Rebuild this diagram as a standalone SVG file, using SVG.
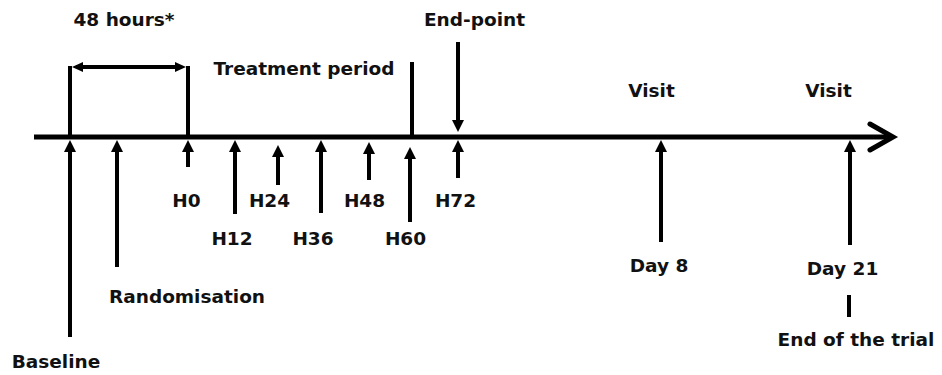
<svg xmlns="http://www.w3.org/2000/svg" width="942" height="375" viewBox="0 0 942 375">
<style>
  text { font-family: "DejaVu Sans", "Liberation Sans", sans-serif; font-weight: bold; font-size: 18.5px; fill: #111; text-anchor: middle; }
  .ln { stroke: #000; stroke-width: 4; fill: none; }
  .ar { stroke: #000; stroke-width: 4; fill: none; marker-end: url(#head); }
  .axis { stroke: #000; stroke-width: 5; fill: none; }
</style>
<defs>
  <marker id="head" markerUnits="userSpaceOnUse" markerWidth="14" markerHeight="14" refX="2" refY="6" orient="auto">
    <path d="M0,0 L12,6 L0,12 z" fill="#000"/>
  </marker>
  <marker id="small" markerUnits="userSpaceOnUse" markerWidth="12" markerHeight="12" refX="2" refY="5" orient="auto-start-reverse">
    <path d="M0,0 L11,5 L0,10 z" fill="#000"/>
  </marker>
</defs>
<rect width="942" height="375" fill="#fff"/>

<g id="connectors">
  <line class="axis" x1="34" y1="137" x2="891" y2="137"/>
  <polyline class="axis" points="870,124 893,137 870,150" stroke-linejoin="miter" stroke-linecap="round"/>
  <!-- 48 hours bracket -->
  <line class="ln" x1="70" y1="137" x2="70" y2="66"/>
  <line class="ln" x1="188" y1="137" x2="188" y2="66"/>
  <line class="ln" x1="81" y1="67" x2="177" y2="67" marker-start="url(#small)" marker-end="url(#small)"/>
  <!-- treatment period end -->
  <line class="ln" x1="412" y1="137" x2="412" y2="62"/>
  <!-- end-point down arrow -->
  <line class="ar" x1="458" y1="42" x2="458" y2="122"/>
  <!-- upward arrows -->
  <line class="ar" x1="70" y1="337" x2="70" y2="150"/>
  <line class="ar" x1="117" y1="267" x2="117" y2="150"/>
  <line class="ar" x1="188" y1="167" x2="188" y2="150"/>
  <line class="ar" x1="235" y1="214" x2="235" y2="150"/>
  <line class="ar" x1="278" y1="185" x2="278" y2="155"/>
  <line class="ar" x1="321" y1="213" x2="321" y2="150"/>
  <line class="ar" x1="369" y1="180" x2="369" y2="152"/>
  <line class="ar" x1="410" y1="222" x2="410" y2="157"/>
  <line class="ar" x1="458" y1="178" x2="458" y2="150"/>
  <line class="ar" x1="661" y1="242" x2="661" y2="150"/>
  <line class="ar" x1="850" y1="245" x2="850" y2="150"/>
  <!-- end of trial tick -->
  <line class="ln" x1="849" y1="295" x2="849" y2="317"/>
</g>

<g id="hours48"><text x="124" y="26">48 hours*</text></g>
<g id="endpoint"><text x="474.5" y="26">End-point</text></g>
<g id="treatment"><text x="304" y="75">Treatment period</text></g>
<g id="visit1"><text x="651.5" y="97">Visit</text></g>
<g id="visit2"><text x="828.5" y="97">Visit</text></g>
<g id="h0"><text x="186.5" y="207">H0</text></g>
<g id="h24"><text x="269.5" y="207">H24</text></g>
<g id="h48"><text x="364.5" y="207">H48</text></g>
<g id="h72"><text x="455.5" y="207">H72</text></g>
<g id="h12"><text x="232" y="245">H12</text></g>
<g id="h36"><text x="313" y="245">H36</text></g>
<g id="h60"><text x="405.5" y="245">H60</text></g>
<g id="randomisation"><text x="187" y="303">Randomisation</text></g>
<g id="baseline"><text x="56" y="368">Baseline</text></g>
<g id="day8"><text x="659" y="272">Day 8</text></g>
<g id="day21"><text x="842.5" y="275">Day 21</text></g>
<g id="endtrial"><text x="856" y="346">End of the trial</text></g>
</svg>
